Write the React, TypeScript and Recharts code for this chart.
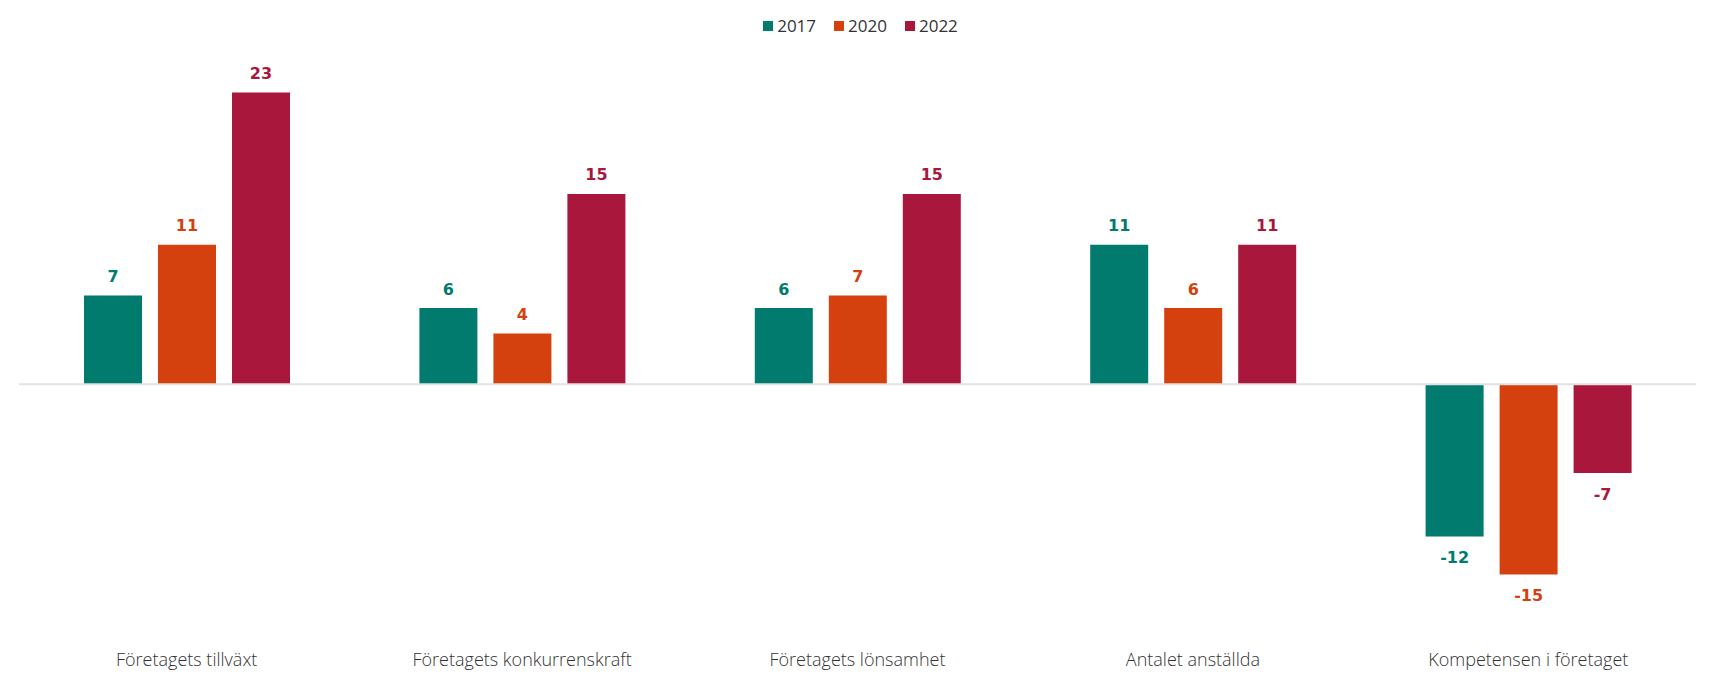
import { Bar, BarChart, LabelList, Legend, ReferenceLine, XAxis, YAxis } from "recharts";

const categories = [
  "Företagets tillväxt",
  "Företagets konkurrenskraft",
  "Företagets lönsamhet",
  "Antalet anställda",
  "Kompetensen i företaget",
];
const values2017 = [7, 6, 6, 11, -12];
const values2020 = [11, 4, 7, 6, -15];
const values2022 = [23, 15, 15, 11, -7];

const series = [
  { key: "y2017", name: "2017", color: "#017b6e" },
  { key: "y2020", name: "2020", color: "#d5400f" },
  { key: "y2022", name: "2022", color: "#a9173d" },
];

const data = categories.map((name, i) => ({
  name,
  y2017: values2017[i],
  y2020: values2020[i],
  y2022: values2022[i],
}));

const valueFont = "'DejaVu Sans', sans-serif";
const textFont = "'Open Sans', sans-serif";

function makeLabel(color: string) {
  return (props: any) => {
    const { x, y, width, height, value } = props;
    const top = Math.min(y, y + height);
    const bottom = Math.max(y, y + height);
    const cx = x + width / 2;
    const ty = value >= 0 ? top - 19 : bottom + 21;
    return (
      <text
        x={cx}
        y={ty}
        textAnchor="middle"
        dominantBaseline="central"
        fill={color}
        fontFamily={valueFont}
        fontWeight={700}
        fontSize={16}
      >
        {value}
      </text>
    );
  };
}

function LegendContent() {
  return (
    <div
      style={{
        display: "flex",
        justifyContent: "center",
        gap: 18,
        fontFamily: textFont,
        fontSize: 17,
        color: "#333",
        paddingLeft: 8,
      }}
    >
      {series.map((s) => (
        <span key={s.key} style={{ display: "flex", alignItems: "center", gap: 4 }}>
          <span style={{ width: 10, height: 10, background: s.color, display: "inline-block" }} />
          {s.name}
        </span>
      ))}
    </div>
  );
}

export default function App() {
  return (
    <div style={{ margin: -8, width: 1713, height: 686, background: "#fff", position: "relative" }}>
      <BarChart
        width={1713}
        height={683}
        data={data}
        margin={{ top: 67, right: 17, bottom: 15, left: 19 }}
        barSize={58}
        barGap={16}
      >
        <Legend
          verticalAlign="top"
          content={<LegendContent />}
          wrapperStyle={{ top: 14, left: 0, width: 1713, height: 0 }}
        />
        <XAxis
          dataKey="name"
          axisLine={false}
          tickLine={false}
          interval={0}
          height={30}
          tickMargin={9}
          tick={{ fill: "#333", fontFamily: textFont, fontSize: 18, fontWeight: 300 }}
        />
        <YAxis hide domain={[-20, 25]} />
        <ReferenceLine y={0} stroke="#e2e2e2" strokeWidth={2} />
        {series.map((s) => (
          <Bar key={s.key} dataKey={s.key} name={s.name} fill={s.color} isAnimationActive={false}>
            <LabelList dataKey={s.key} content={makeLabel(s.color)} />
          </Bar>
        ))}
      </BarChart>
      <div style={{ position: "absolute", left: 0, top: 683, width: 1713, height: 3, background: "#bdbdbd" }} />
    </div>
  );
}
